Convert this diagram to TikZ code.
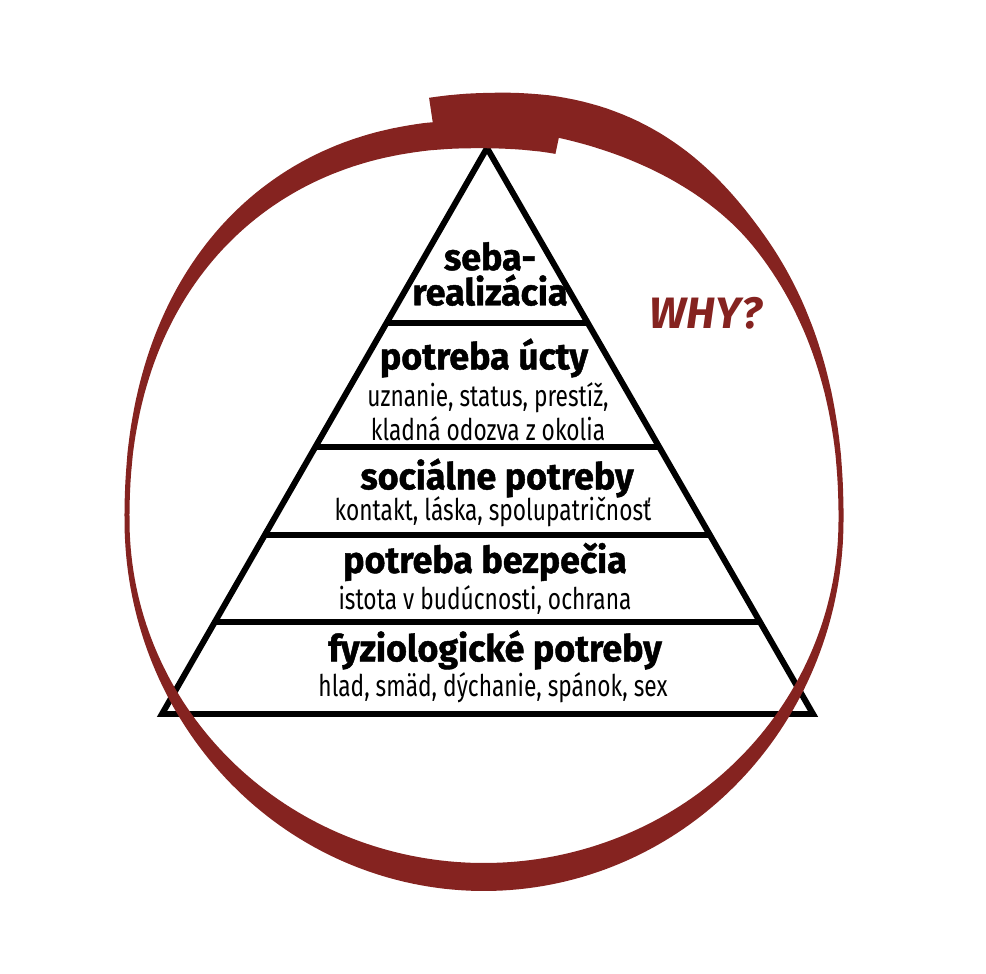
\documentclass[tikz,border=0pt]{standalone}
\usepackage{fontspec}
\setmainfont{Fira Sans}
\newfontfamily\headfont[FakeStretch=0.97, BoldFeatures={FakeBold=1.2}]{Fira Sans}
\newfontfamily\subfont[FakeStretch=0.76]{Fira Sans}
\usetikzlibrary{calc}
\definecolor{whyred}{RGB}{133,35,32}

\begin{document}
\begin{tikzpicture}[x=0.01cm, y=-0.01cm,
  pyr/.style={line width=1.7pt, line join=miter},
  head/.style={font=\headfont\bfseries\fontsize{10.5}{10}\selectfont, align=center, inner sep=0pt},
  sub/.style={font=\subfont\fontsize{8.5}{8.5}\selectfont, align=center, inner sep=0pt},
  declare function={
    ex(\t)=(sin(\t)>0 ? 0.909 : 1);
    sx(\t)=(cos(\t)<0 ? -1 : 1)*pow(abs(cos(\t))+0.00001,ex(\t));
    sy(\t)=(sin(\t)<0 ? -1 : 1)*pow(abs(sin(\t))+0.00001,ex(\t));
    rb(\t)=(sin(\t)>0 ? 403.5+0.0657*\t : 357);
    ww(\t)=5+23*sin(\t)^2+14*max(0,1-((\t-73)/32)^2)^2;
  }]
  \useasboundingbox (0,0) rectangle (986,974);
  % Pyramide
  \coordinate (apex) at (487,148);
  \coordinate (bl) at (162,714);
  \coordinate (br) at (813,714);
  \draw[pyr] (bl) -- (apex) -- (br) -- cycle;
  \foreach \f in {0.309,0.528,0.684,0.837}
    \draw[pyr] ($(apex)!\f!(bl)$) -- ($(apex)!\f!(br)$);
  % Urovne
  \node[head] (self) at (490,274) {seba-\\realizácia};
  \node[head] (esteem) at (484,358) {potreba úcty};
  \node[sub] (esteemtxt) at (488,412) {uznanie, status, prestíž,\\kladná odozva z okolia};
  \node[head] (social) at (497,478) {sociálne potreby};
  \node[sub] (socialtxt) at (493,512) {kontakt, láska, spolupatričnosť};
  \node[head] (safety) at (485,562) {potreba bezpečia};
  \node[sub] (safetytxt) at (485,600) {istota v budúcnosti, ochrana};
  \node[head] (physio) at (495,650) {fyziologické potreby};
  \node[sub] (physiotxt) at (493,688) {hlad, smäd, dýchanie, spánok, sex};
  % Spirala okolo
  \fill[whyred]
    plot[variable=\t, domain=97:-280.2, samples=300]
      ({484+(357+ww(\t)/2)*sx(\t)}, {520-(rb(\t)+ww(\t)/2)*sy(\t)})
    -- plot[variable=\t, domain=-280.2:97, samples=300]
      ({484+(357-ww(\t)/2)*sx(\t)}, {520-(rb(\t)-ww(\t)/2)*sy(\t)})
    -- cycle;
  \node[whyred, font=\bfseries\itshape\fontsize{12.5}{12}\selectfont] (why) at (706,313) {WHY?};
\end{tikzpicture}
\end{document}
